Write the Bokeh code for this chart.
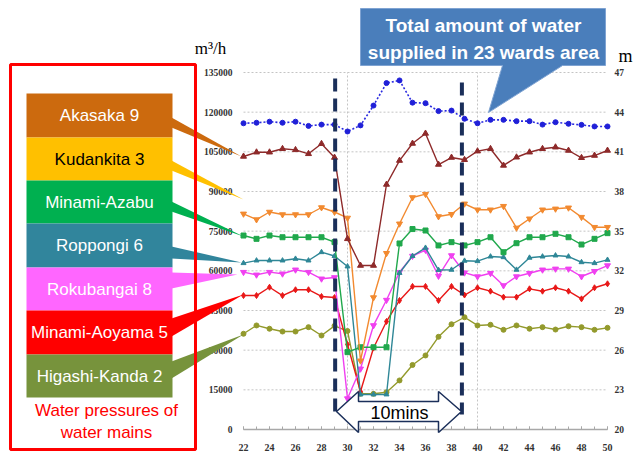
from bokeh.plotting import figure
from bokeh.models import (Range1d, LinearAxis, FixedTicker, BoxAnnotation,
                          PolyAnnotation, Label, BasicTickFormatter)
from bokeh.embed import file_html
from bokeh.resources import INLINE

# ---------------- data ----------------
minutes = list(range(22, 51))
x_tick_labels = list(range(22, 51, 2))
flow_ticks = list(range(0, 135001, 15000))
pressure_ticks = [20, 23, 26, 29, 32, 35, 38, 41, 44, 47]
vgrid_ticks = [30, 40]

total_flow = [115800, 116000, 116400, 116000, 116400, 114800, 115300, 115300,
              112700, 115000, 122500, 131000, 132000, 123600, 123400, 120400,
              120600, 117500, 115800, 117100, 117100, 116600, 116600, 115300,
              116200, 115600, 115200, 114600, 114600]

akasaka = [40.65, 40.97, 40.97, 41.23, 41.15, 40.85, 41.61, 40.57, 34.42, 32.40,
           32.40, 38.53, 40.34, 41.63, 42.39, 40.04, 40.57, 40.40, 41.05, 41.23,
           39.97, 40.59, 40.97, 41.23, 41.35, 41.10, 40.55, 40.72, 41.10]
kudankita = [36.31, 35.88, 36.45, 36.26, 36.26, 36.26, 36.79, 36.45, 36.00, 25.20,
             29.98, 33.33, 35.56, 37.55, 37.80, 36.11, 36.28, 37.07, 36.62, 36.62,
             36.89, 35.25, 35.94, 36.62, 36.69, 36.77, 36.06, 35.30, 35.30]
minami_azabu = [34.67, 34.42, 34.67, 34.54, 34.54, 34.54, 34.54, 34.17, 25.85, 26.22,
                26.22, 26.22, 34.07, 35.16, 35.05, 33.92, 34.17, 33.92, 34.17, 34.54,
                33.41, 34.09, 34.54, 34.54, 34.80, 34.54, 33.99, 34.42, 34.85]
roppongi = [32.58, 32.78, 32.78, 32.78, 32.91, 32.78, 33.41, 33.12, 32.33, 22.65,
            22.65, 22.65, 31.84, 33.12, 33.74, 32.06, 32.08, 32.76, 32.73, 33.08,
            33.03, 32.08, 32.99, 33.08, 33.16, 33.08, 32.65, 32.58, 32.83]
rokubangai = [31.90, 31.70, 31.90, 31.78, 32.08, 31.90, 31.40, 31.50, 22.34, 24.59,
              27.87, 29.79, 31.90, 33.12, 33.57, 31.61, 33.16, 31.86, 31.57, 31.82,
              30.89, 31.57, 31.82, 32.08, 32.15, 32.15, 31.57, 31.97, 32.40]
minami_aoyama = [30.13, 30.13, 30.76, 30.13, 30.57, 30.57, 30.06, 29.98, 26.43, 22.87,
                 26.16, 28.17, 29.76, 30.82, 30.82, 29.76, 30.82, 30.17, 30.72, 30.46,
                 30.01, 30.01, 30.64, 30.46, 30.72, 30.46, 29.88, 30.72, 31.02]
higashi_kanda = [27.24, 27.87, 27.62, 27.41, 27.41, 27.74, 27.11, 27.84, 27.45, 22.70,
                 22.70, 22.82, 23.71, 24.88, 25.60, 27.01, 27.96, 28.49, 27.87, 27.92,
                 27.54, 27.87, 27.62, 27.74, 27.56, 27.81, 27.74, 27.54, 27.69]

station_names = ["Akasaka 9", "Kudankita 3", "Minami-Azabu", "Roppongi 6",
                 "Rokubangai 8", "Minami-Aoyama 5", "Higashi-Kanda 2"]
event_window = [29.05, 38.8]

# ---------------- geometry ----------------
W, H = 640, 464
PX_MIN = 13.0                 # pixels per minute
K_FLOW = 135000 / 357.0       # m3/h per pixel
K_M = 27 / 357.0              # m per pixel
X0 = 22 - 243 / PX_MIN        # minute 22 sits 243 px from the left
X1 = X0 + W / PX_MIN
Y0 = -(H - 429) * K_FLOW      # 0 m3/h sits 429 px from the top
Y1 = Y0 + H * K_FLOW
M0 = 20 - (H - 429) * K_M
M1 = M0 + H * K_M


def dx(px):
    return X0 + px / PX_MIN


def dy(py):
    return Y0 + (H - py) * K_FLOW


p = figure(width=W, height=H, x_range=Range1d(X0, X1), y_range=Range1d(Y0, Y1),
           output_backend="svg", toolbar_location=None, min_border=0)
p.outline_line_color = None
p.background_fill_color = "white"
p.border_fill_color = "white"
p.xgrid.visible = False
p.ygrid.visible = False

SERIF = "Liberation Serif"
SANS = "Liberation Sans"

# axes (fixed inside the frame)
p.extra_y_ranges = {"m": Range1d(M0, M1)}
left = p.yaxis[0]
left.ticker = FixedTicker(ticks=flow_ticks)
left.formatter = BasicTickFormatter(use_scientific=False)
left.fixed_location = minutes[0]
left.bounds = (flow_ticks[0], flow_ticks[-1])
right = LinearAxis(y_range_name="m", ticker=FixedTicker(ticks=pressure_ticks),
                   fixed_location=minutes[-1],
                   bounds=(pressure_ticks[0], pressure_ticks[-1]))
p.add_layout(right, "right")
for ax in (left, right):
    ax.axis_line_color = None
    ax.major_tick_line_color = None
    ax.minor_tick_line_color = None
    ax.major_tick_in = 0
    ax.major_tick_out = 0
    ax.minor_tick_in = 0
    ax.minor_tick_out = 0
    ax.major_label_text_font = SERIF
    ax.major_label_text_font_size = "9.5px"
    ax.major_label_text_font_style = "bold"
    ax.major_label_text_color = "#333333"
left.major_label_standoff = 11
right.major_label_standoff = 7

bottom = p.xaxis[0]
bottom.ticker = FixedTicker(ticks=x_tick_labels, minor_ticks=minutes)
bottom.fixed_location = 0
bottom.bounds = (minutes[0], minutes[-1])
bottom.axis_line_color = "#A8A8A8"
bottom.axis_line_width = 1.5
bottom.major_tick_line_color = "#A8A8A8"
bottom.minor_tick_line_color = "#A8A8A8"
bottom.major_tick_in = 3
bottom.major_tick_out = 0
bottom.minor_tick_in = 3
bottom.minor_tick_out = 0
bottom.major_label_text_font = SERIF
bottom.major_label_text_font_size = "10px"
bottom.major_label_text_font_style = "bold"
bottom.major_label_text_color = "#333333"
bottom.major_label_standoff = 14

# dotted grid lines limited to the plot area
grid_y = flow_ticks[1:]
p.segment(x0=[minutes[0]] * len(grid_y), x1=[minutes[-1]] * len(grid_y),
          y0=grid_y, y1=grid_y, line_color="#C4C4C4", line_dash="2 2",
          line_width=1)
p.segment(x0=vgrid_ticks, x1=vgrid_ticks, y0=[flow_ticks[0]] * len(vgrid_ticks),
          y1=[flow_ticks[-1]] * len(vgrid_ticks), line_color="#C4C4C4",
          line_dash="2 2", line_width=1)

# total flow
p.line(minutes, total_flow, color="#2A2AE0", line_width=1.6, line_dash="2 2")
p.scatter(minutes, total_flow, marker="circle", size=5, color="#2020D8")

series = [
    (higashi_kanda, "#939A2C", "circle", 5),
    (minami_aoyama, "#E81818", "diamond", 6),
    (rokubangai, "#F040F0", "inverted_triangle", 6),
    (roppongi, "#2F8797", "triangle", 5),
    (minami_azabu, "#20A84C", "square", 5),
    (kudankita, "#F28A30", "inverted_triangle", 6),
    (akasaka, "#8E2A2A", "triangle", 6),
]
for vals, col, mk, sz in series:
    p.line(minutes, vals, color=col, line_width=1.4, y_range_name="m")
    p.scatter(minutes, vals, marker=mk, size=sz, color=col, y_range_name="m")

# event window dashed lines
p.segment(x0=event_window, x1=event_window, y0=[dy(78), dy(82)],
          y1=[dy(414), dy(414)], line_color="#1B2F5A", line_width=4,
          line_dash="13 7")

# double arrow "10mins"
arrow_px = [(336, 411), (358, 391), (358, 401), (438, 401), (438, 391),
            (461, 411), (438, 432), (438, 421), (358, 421), (358, 432)]
p.add_layout(PolyAnnotation(xs=[dx(a) for a, b in arrow_px],
                            ys=[dy(b) for a, b in arrow_px],
                            fill_color="white", fill_alpha=1,
                            line_color="#1B2F5A", line_alpha=1, line_width=1.5))
p.add_layout(Label(x=dx(399), y=dy(412), text="10mins", text_align="center",
                   text_baseline="middle", text_font=SANS,
                   text_font_size="18px", text_color="black"))

# callout box
call_px = [(360, 8), (605, 8), (605, 65), (562, 65), (488, 112), (502, 65), (360, 65)]
p.add_layout(PolyAnnotation(xs=[dx(a) for a, b in call_px],
                            ys=[dy(b) for a, b in call_px],
                            fill_color="#4A7EBB", fill_alpha=1,
                            line_color="#7FA3D2", line_alpha=1, line_width=1))
p.add_layout(Label(x=dx(483), y=dy(25), text="Total amount of water",
                   text_align="center", text_baseline="middle", text_font=SANS,
                   text_font_size="19px", text_font_style="bold",
                   text_color="white"))
p.add_layout(Label(x=dx(483), y=dy(52), text="supplied in 23 wards area",
                   text_align="center", text_baseline="middle", text_font=SANS,
                   text_font_size="19px", text_font_style="bold",
                   text_color="white"))

# axis unit labels
p.add_layout(Label(x=dx(210), y=dy(48), text="m³/h", text_align="center",
                   text_baseline="middle", text_font=SERIF,
                   text_font_size="17px", text_color="black"))
p.add_layout(Label(x=dx(625), y=dy(55), text="m", text_align="center",
                   text_baseline="middle", text_font=SERIF,
                   text_font_size="18px", text_color="black"))

# legend connectors (wedges)
block_colors = ["#CC6A0E", "#FFC000", "#00B050", "#31859C", "#FF66FF",
                "#FF0000", "#77933C"]
wedges = [
    [(171, 117), (171, 127), (241, 156)],
    [(171, 160), (171, 170), (243, 199)],
    [(171, 201), (171, 211), (243, 236)],
    [(171, 246), (171, 258), (241, 262)],
    [(171, 272), (171, 288), (237, 274)],
    [(171, 318), (171, 336), (243, 294)],
    [(171, 361), (171, 378), (243, 334)],
]
for wpts, col in zip(wedges, block_colors):
    p.add_layout(PolyAnnotation(xs=[dx(a) for a, b in wpts],
                                ys=[dy(b) for a, b in wpts],
                                fill_color=col, fill_alpha=1, line_color=None))

# legend blocks
edges = [93, 137, 180, 223, 267, 310, 354, 397]
text_cols = ["white", "black", "white", "white", "white", "white", "white"]
for i, (name, col) in enumerate(zip(station_names, block_colors)):
    p.add_layout(BoxAnnotation(left=dx(26), right=dx(172), top=dy(edges[i]),
                               bottom=dy(edges[i + 1]), fill_color=col,
                               fill_alpha=1, line_color=None))
    p.add_layout(Label(x=dx(99), y=dy((edges[i] + edges[i + 1]) / 2),
                       text=name, text_align="center", text_baseline="middle",
                       text_font=SANS, text_font_size="17px",
                       text_color=text_cols[i]))

p.add_layout(Label(x=dx(106), y=dy(410), text="Water pressures of",
                   text_align="center", text_baseline="middle", text_font=SANS,
                   text_font_size="17px", text_color="#FF0000"))
p.add_layout(Label(x=dx(106), y=dy(432), text="water mains",
                   text_align="center", text_baseline="middle", text_font=SANS,
                   text_font_size="17px", text_color="#FF0000"))

# red frame
p.add_layout(BoxAnnotation(left=dx(10), right=dx(195), top=dy(64), bottom=dy(449),
                           fill_color=None, fill_alpha=0, line_color="#FF0000",
                           line_alpha=1, line_width=3))

open("out.html", "w").write(file_html(p, INLINE))
